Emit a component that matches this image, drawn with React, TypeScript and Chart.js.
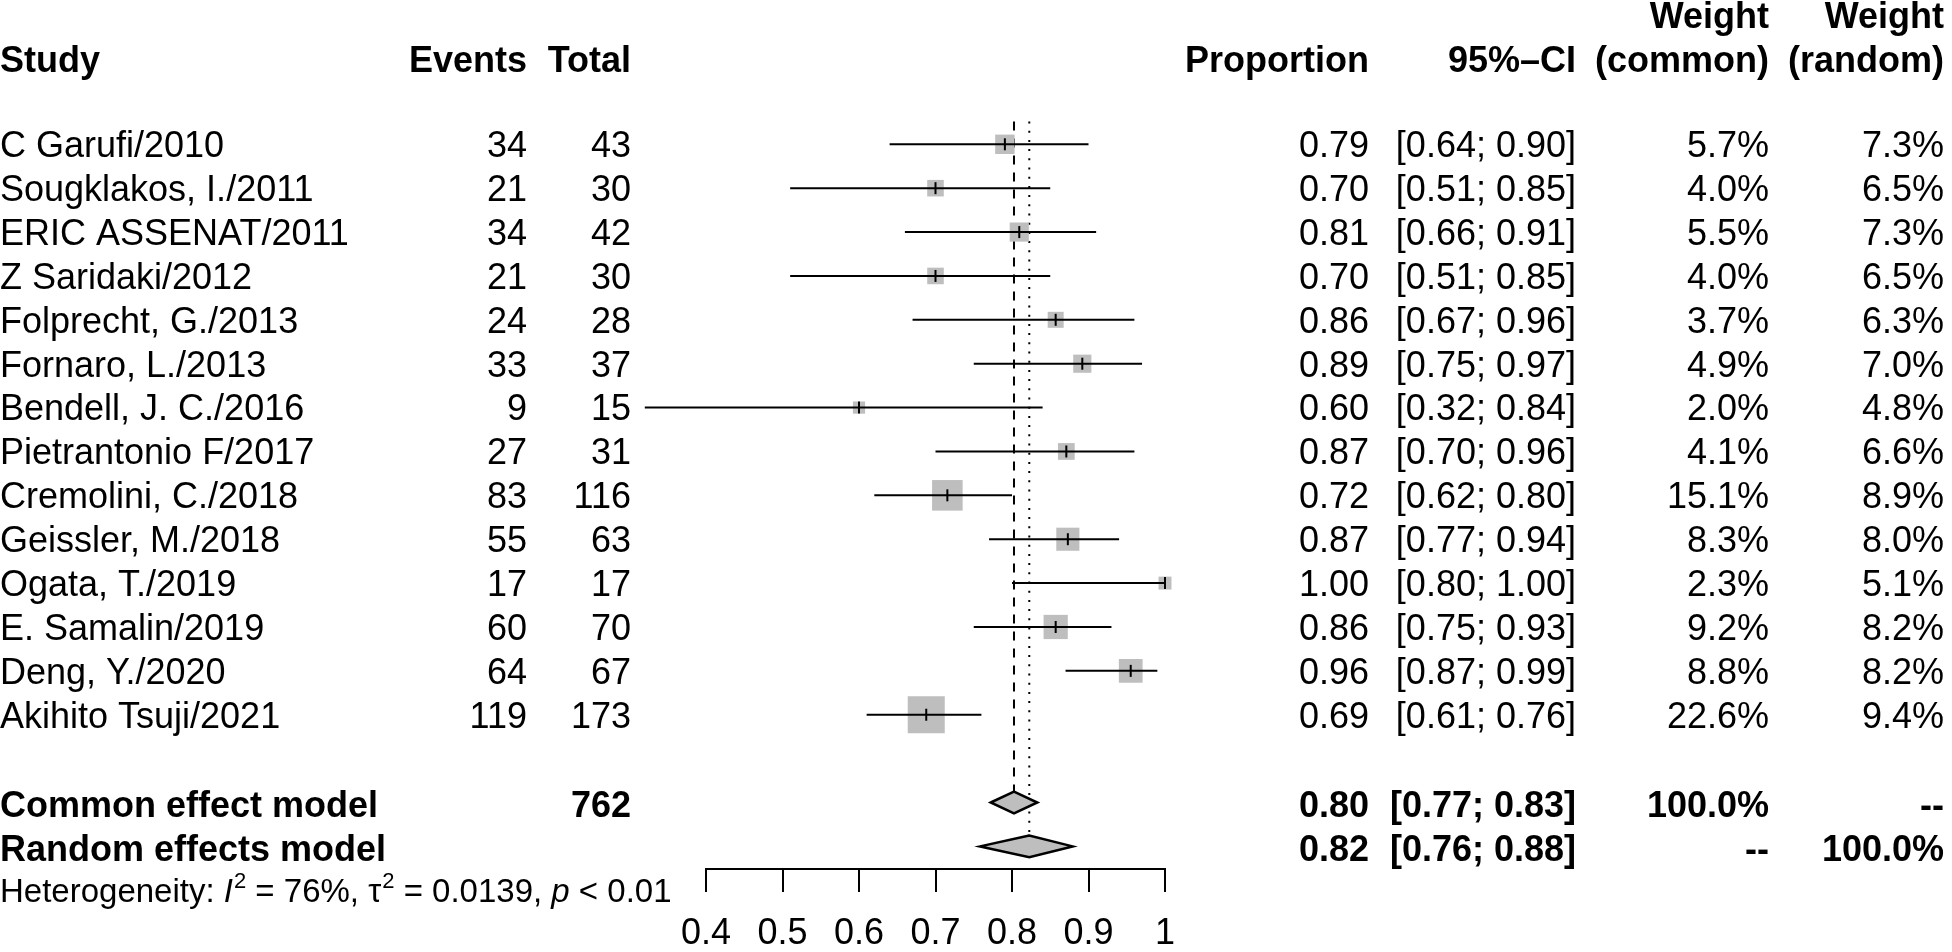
import React, { useEffect, useRef } from "react";
import { Chart, registerables } from "chart.js";

Chart.register(...registerables);

// ---------------- data ----------------
const studies = [
  "C Garufi/2010",
  "Sougklakos, I./2011",
  "ERIC ASSENAT/2011",
  "Z Saridaki/2012",
  "Folprecht, G./2013",
  "Fornaro, L./2013",
  "Bendell, J. C./2016",
  "Pietrantonio F/2017",
  "Cremolini, C./2018",
  "Geissler, M./2018",
  "Ogata, T./2019",
  "E. Samalin/2019",
  "Deng, Y./2020",
  "Akihito Tsuji/2021",
];
const events = [34, 21, 34, 21, 24, 33, 9, 27, 83, 55, 17, 60, 64, 119];
const totals = [43, 30, 42, 30, 28, 37, 15, 31, 116, 63, 17, 70, 67, 173];
const proportions = [0.7907, 0.7, 0.8095, 0.7, 0.8571, 0.8919, 0.6, 0.871, 0.7155, 0.873, 1.0, 0.8571, 0.9552, 0.6879];
const ciLower = [0.64, 0.51, 0.66, 0.51, 0.67, 0.75, 0.32, 0.7, 0.62, 0.77, 0.8, 0.75, 0.87, 0.61];
const ciUpper = [0.9, 0.85, 0.91, 0.85, 0.96, 0.97, 0.84, 0.96, 0.8, 0.94, 1.0, 0.93, 0.99, 0.76];
const weightCommon = [5.7, 4.0, 5.5, 4.0, 3.7, 4.9, 2.0, 4.1, 15.1, 8.3, 2.3, 9.2, 8.8, 22.6];
const weightRandom = [7.3, 6.5, 7.3, 6.5, 6.3, 7.0, 4.8, 6.6, 8.9, 8.0, 5.1, 8.2, 8.2, 9.4];

const commonEst = 0.8026;
const commonCI = [0.7722, 0.8331];
const randomEst = 0.8226;
const randomCI = [0.7582, 0.8793];

const tickValues = [0.4, 0.5, 0.6, 0.7, 0.8, 0.9, 1.0];
const tickLabels = ["0.4", "0.5", "0.6", "0.7", "0.8", "0.9", "1"];

// ---------------- styles / layout ----------------
const FONT = '"Liberation Sans", Arial, Helvetica, sans-serif';
const GRAY = "#BEBEBE";
const FS = 36;
const HET_FS = 33;
const COL = {
  study: 0,
  events: 527,
  total: 631,
  prop: 1369,
  ci: 1576,
  wCommon: 1769,
  wRandom: 1944,
};

export default function App() {
  const ref = useRef<HTMLCanvasElement>(null);

  useEffect(() => {
    const canvas = ref.current;
    if (!canvas) return;
    const n = studies.length;
    const commonRow = n + 1;
    const randomRow = n + 2;
    const hetRow = n + 3;
    const headerRow = -1.9325;
    const weightRow = -2.935;
    const half = 0.246;
    const topRow = -0.52;

    const datasets: any[] = [];
    // estimate tick marks
    datasets.push({
      type: "scatter",
      data: proportions.map((p, i) => ({ x: p, y: i })),
      pointStyle: "line",
      pointRotation: 90,
      pointRadius: 6,
      pointBorderColor: "#000",
      pointBorderWidth: 2,
      order: 1,
      clip: false,
    });
    // CI lines
    studies.forEach((_, i) => {
      datasets.push({
        type: "line",
        data: [
          { x: ciLower[i], y: i },
          { x: ciUpper[i], y: i },
        ],
        borderColor: "#000",
        borderWidth: 2,
        pointRadius: 0,
        fill: false,
        tension: 0,
        order: 2,
        clip: false,
      });
    });
    // squares (area proportional to common-effect weight)
    datasets.push({
      type: "scatter",
      data: proportions.map((p, i) => ({ x: p, y: i })),
      pointStyle: "rect",
      pointRadius: weightCommon.map((w) => (7.43 * Math.sqrt(w) + 1.7) / Math.SQRT2),
      pointBackgroundColor: GRAY,
      pointBorderWidth: 0,
      order: 3,
      clip: false,
    });
    // diamonds
    const diamond = (est: number, lo: number, hi: number, row: number) => [
      { x: lo, y: row },
      { x: est, y: row - half },
      { x: hi, y: row },
      { x: est, y: row + half },
      { x: lo, y: row },
      { x: est, y: row - half },
    ];
    [
      diamond(commonEst, commonCI[0], commonCI[1], commonRow),
      diamond(randomEst, randomCI[0], randomCI[1], randomRow),
    ].forEach((d) =>
      datasets.push({
        type: "line",
        data: d,
        borderColor: "#000",
        borderWidth: 2.5,
        borderJoinStyle: "miter",
        backgroundColor: GRAY,
        fill: "shape",
        pointRadius: 0,
        tension: 0,
        order: 2,
        clip: false,
      })
    );
    // reference lines
    datasets.push({
      type: "line",
      data: [
        { x: commonEst, y: topRow },
        { x: commonEst, y: commonRow - half },
      ],
      borderColor: "#000",
      borderWidth: 2,
      borderDash: [9, 8],
      pointRadius: 0,
      fill: false,
      order: 5,
      clip: false,
    });
    datasets.push({
      type: "line",
      data: [
        { x: randomEst, y: topRow },
        { x: randomEst, y: randomRow - half },
      ],
      borderColor: "#000",
      borderWidth: 2,
      borderDash: [2, 7.2],
      pointRadius: 0,
      fill: false,
      order: 5,
      clip: false,
    });

    const textPlugin = {
      id: "forestText",
      afterDraw(chart: any) {
        const ctx: CanvasRenderingContext2D = chart.ctx;
        const ys = chart.scales.y;
        const put = (t: string, x: number, row: number, align: CanvasTextAlign, bold = false, size = FS) => {
          ctx.font = `${bold ? "bold " : ""}${size}px ${FONT}`;
          ctx.textAlign = align;
          ctx.textBaseline = "alphabetic";
          ctx.fillText(t, x, ys.getPixelForValue(row) + 0.358 * size);
        };
        ctx.save();
        ctx.fillStyle = "#000";
        // headers
        put("Weight", COL.wCommon, weightRow, "right", true);
        put("Weight", COL.wRandom, weightRow, "right", true);
        put("Study", COL.study, headerRow, "left", true);
        put("Events", COL.events, headerRow, "right", true);
        put("Total", COL.total, headerRow, "right", true);
        put("Proportion", COL.prop, headerRow, "right", true);
        put("95%\u2013CI", COL.ci, headerRow, "right", true);
        put("(common)", COL.wCommon, headerRow, "right", true);
        put("(random)", COL.wRandom, headerRow, "right", true);
        // study rows
        studies.forEach((s, i) => {
          put(s, COL.study, i, "left");
          put(String(events[i]), COL.events, i, "right");
          put(String(totals[i]), COL.total, i, "right");
          put(proportions[i].toFixed(2), COL.prop, i, "right");
          put(`[${ciLower[i].toFixed(2)}; ${ciUpper[i].toFixed(2)}]`, COL.ci, i, "right");
          put(`${weightCommon[i].toFixed(1)}%`, COL.wCommon, i, "right");
          put(`${weightRandom[i].toFixed(1)}%`, COL.wRandom, i, "right");
        });
        // summary rows
        const totalN = totals.reduce((a, b) => a + b, 0);
        const cr = commonRow + 0.03;
        const rr = randomRow + 0.03;
        put("Common effect model", COL.study, cr, "left", true);
        put(String(totalN), COL.total, cr, "right", true);
        put(commonEst.toFixed(2), COL.prop, cr, "right", true);
        put(`[${commonCI[0].toFixed(2)}; ${commonCI[1].toFixed(2)}]`, COL.ci, cr, "right", true);
        put("100.0%", COL.wCommon, cr, "right", true);
        put("--", COL.wRandom, cr, "right", true);
        put("Random effects model", COL.study, rr, "left", true);
        put(randomEst.toFixed(2), COL.prop, rr, "right", true);
        put(`[${randomCI[0].toFixed(2)}; ${randomCI[1].toFixed(2)}]`, COL.ci, rr, "right", true);
        put("--", COL.wCommon, rr, "right", true);
        put("100.0%", COL.wRandom, rr, "right", true);
        // heterogeneity
        const base = ys.getPixelForValue(hetRow) + 0.358 * HET_FS;
        const pieces: [string, string][] = [
          ["Heterogeneity: ", ""],
          ["I", "italic "],
          ["2", "sup"],
          [" = 76%, ", ""],
          ["\u03C4", ""],
          ["2", "sup"],
          [" = 0.0139, ", ""],
          ["p", "italic "],
          [" < 0.01", ""],
        ];
        let x = 0;
        ctx.textAlign = "left";
        ctx.textBaseline = "alphabetic";
        for (const [t, st] of pieces) {
          if (st === "sup") {
            ctx.font = `22px ${FONT}`;
            ctx.fillText(t, x + 1, base - 14);
            x += ctx.measureText(t).width + 1;
          } else {
            ctx.font = `${st}${HET_FS}px ${FONT}`;
            ctx.fillText(t, x, base);
            x += ctx.measureText(t).width;
          }
        }
        ctx.restore();
      },
    };

    const chart = new Chart(canvas, {
      type: "scatter",
      data: { datasets },
      options: {
        animation: false,
        responsive: false,
        events: [],
        layout: { autoPadding: false, padding: { left: 706, right: 787, top: 0, bottom: 0 } },
        plugins: { legend: { display: false }, tooltip: { enabled: false } },
        scales: {
          x: {
            type: "linear",
            position: "bottom",
            min: 0.4,
            max: 1,
            afterBuildTicks: (s: any) => {
              s.ticks = tickValues.map((v) => ({ value: v }));
            },
            afterFit: (s: any) => {
              s.height = 83;
            },
            grid: { drawOnChartArea: false, drawTicks: true, tickLength: 23, color: "#000", lineWidth: 2 },
            border: { display: true, color: "#000", width: 2 },
            ticks: {
              autoSkip: false,
              maxRotation: 0,
              minRotation: 0,
              padding: 20,
              color: "#000",
              font: { family: FONT, size: 36 },
              callback: (_v: any, i: number) => tickLabels[i],
            },
          },
          y: {
            type: "linear",
            reverse: true,
            min: -3.2885,
            max: 16.5155,
            display: false,
          },
        },
      } as any,
      plugins: [textPlugin],
    });
    return () => chart.destroy();
  }, []);

  return (
    <div style={{ position: "absolute", left: 0, top: 0, width: 1952, height: 952, background: "#fff" }}>
      <canvas ref={ref} width={1952} height={952} style={{ display: "block" }} />
    </div>
  );
}
